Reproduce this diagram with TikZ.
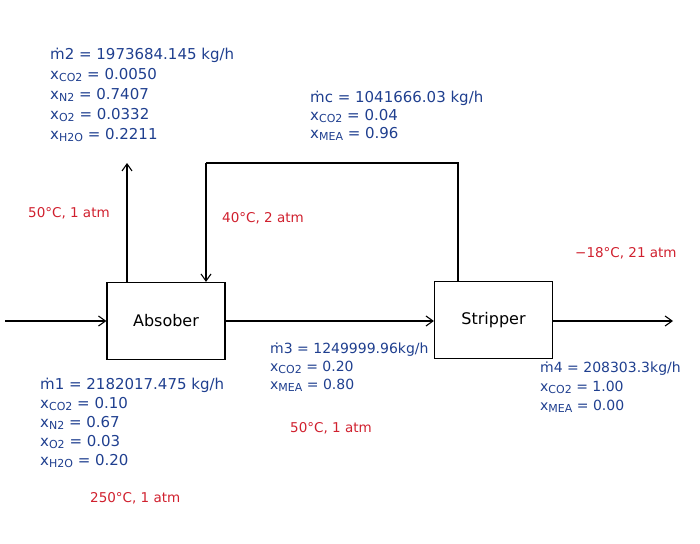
\documentclass[tikz,border=0pt]{standalone}
\usepackage{fontspec}
\setmainfont{DejaVu Sans}
\usetikzlibrary{arrows.meta}
\definecolor{inkblue}{HTML}{1F3F8F}
\definecolor{inkred}{HTML}{D0202E}
\newcommand{\sbs}[1]{\raisebox{-1.5pt}{\fontsize{11}{12}\selectfont #1}}
\tikzset{
  unit/.style={draw=black, line width=1.2pt, minimum width=118pt, minimum height=77pt, inner sep=0pt, font=\fontsize{16}{18}\selectfont},
  flow/.style={line width=1.1pt, -{Straight Barb[length=7pt,width=10pt]}},
  pipe/.style={line width=1.1pt},
  data/.style={anchor=north west, inner sep=0pt, align=left, text=inkblue, font=\fontsize{15}{#1}\selectfont},
  data/.default=20pt,
  small data/.style={data=#1, font=\fontsize{14}{#1}\selectfont},
  cond/.style={anchor=west, inner sep=0pt, text=inkred, font=\fontsize{13.5}{15}\selectfont}
}
\begin{document}
\begin{tikzpicture}[x=1pt,y=-1pt]
\useasboundingbox (0,0) rectangle (700,543);
\node[unit] (abs) at (166,321) {Absober};
\node[unit] (str) at (493.5,320) {Stripper};
\coordinate (in) at (5,321);
\coordinate (out) at (673,321);
\coordinate (gas) at (127,163);
\coordinate (r1) at (458,163);
\coordinate (r2) at (206,163);
\draw[flow] (in) -- (abs.west |- in);
\draw[flow] (abs.east |- in) -- (str.west |- in);
\draw[flow] (str.east |- out) -- (out);
\draw[flow] (gas |- abs.north) -- (gas);
\draw[pipe] (r1 |- str.north) -- (r1) -- (r2);
\draw[flow] (r2) -- (r2 |- abs.north);

\node[data] (m2) at (50,48) {ṁ2 = 1973684.145 kg/h\\
x\sbs{CO2} = 0.0050\\
x\sbs{N2} = 0.7407\\
x\sbs{O2} = 0.0332\\
x\sbs{H2O} = 0.2211};
\node[data=18pt] (mc) at (310,91) {ṁc = 1041666.03 kg/h\\
x\sbs{CO2} = 0.04\\
x\sbs{MEA} = 0.96};
\node[data=19pt] (m1) at (40,378) {ṁ1 = 2182017.475 kg/h\\
x\sbs{CO2} = 0.10\\
x\sbs{N2} = 0.67\\
x\sbs{O2} = 0.03\\
x\sbs{H2O} = 0.20};
\node[small data=18pt] (m3) at (270,343) {ṁ3 = 1249999.96kg/h\\
x\sbs{CO2} = 0.20\\
x\sbs{MEA} = 0.80};
\node[small data=19pt] (m4) at (540,362) {ṁ4 = 208303.3kg/h\\
x\sbs{CO2} = 1.00\\
x\sbs{MEA} = 0.00};

\node[cond] (c1) at (28,213) {50°C, 1 atm};
\node[cond] (c2) at (222,218) {40°C, 2 atm};
\node[cond] (c3) at (575,253) {−18°C, 21 atm};
\node[cond] (c4) at (290,428) {50°C, 1 atm};
\node[cond] (c5) at (90,498) {250°C, 1 atm};
\end{tikzpicture}
\end{document}
